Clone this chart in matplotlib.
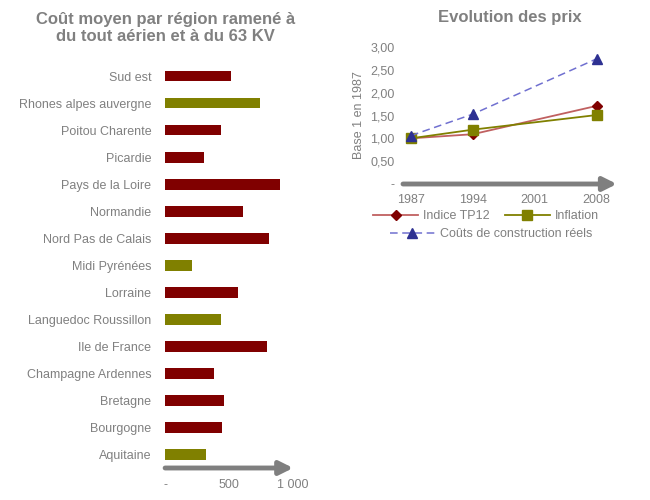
import matplotlib
matplotlib.use("Agg")
import matplotlib.pyplot as plt
from matplotlib.ticker import FuncFormatter

plt.rcParams['font.family'] = ['Liberation Sans', 'DejaVu Sans']

# bar chart data (top to bottom)
regions = ["Sud est", "Rhones alpes auvergne", "Poitou Charente", "Picardie",
           "Pays de la Loire", "Normandie", "Nord Pas de Calais", "Midi Pyrénées",
           "Lorraine", "Languedoc Roussillon", "Ile de France", "Champagne Ardennes",
           "Bretagne", "Bourgogne", "Aquitaine"]
costs = [516, 745, 438, 307, 898, 607, 810, 208, 570, 438, 792, 383, 458, 445, 320]
highlight = [False, True, False, False, False, False, False, True,
             False, True, False, False, False, False, True]

# line chart data
years = [1987, 1994, 2008]
tp12 = [1.0, 1.09, 1.71]
inflation = [1.0, 1.19, 1.51]
couts = [1.06, 1.53, 2.74]
year_ticks = [1987, 1994, 2001, 2008]

grey = "#808080"
red = "#800000"
olive = "#808000"

fig = plt.figure(figsize=(6.5, 5), dpi=100)

# --- left: bar chart
ax1 = fig.add_axes([0.254, 0.064, 0.197, 0.811])
ypos = list(range(len(regions)))[::-1]
colors = [olive if h else red for h in highlight]
ax1.barh(ypos, costs, height=0.4, color=colors)
ax1.set_xlim(0, 1000)
ax1.set_ylim(-0.5, len(regions) - 0.5)
ax1.set_yticks(ypos)
ax1.set_yticklabels(regions)
ax1.set_xticks([0, 500, 1000])
ax1.xaxis.set_major_formatter(FuncFormatter(
    lambda v, p: "-" if v == 0 else f"{int(v):,}".replace(",", " ")))
for s in ax1.spines.values():
    s.set_visible(False)
ax1.tick_params(length=0, colors=grey, labelsize=9)
ax1.tick_params(axis="y", pad=10)
ax1.tick_params(axis="x", pad=8)
ax1.annotate("", xy=(1.0, 0), xytext=(0, 0), xycoords="axes fraction",
             arrowprops=dict(arrowstyle="-|>,head_length=0.8,head_width=0.4",
                             color="#7f7f7f", lw=3.5, shrinkA=0, shrinkB=0),
             annotation_clip=False)
fig.text(0.254, 0.976, "Coût moyen par région ramené à\ndu tout aérien et à du 63 KV",
         ha="center", va="top", fontsize=12, fontweight="bold", color=grey,
         linespacing=1.2)

# --- right: line chart
ax2 = fig.add_axes([0.62, 0.632, 0.329, 0.274])
l1, = ax2.plot(years, tp12, color="#c06060", lw=1.3, marker="D", markersize=5,
               markerfacecolor=red, markeredgecolor=red)
l2, = ax2.plot(years, inflation, color=olive, lw=1.3, marker="s", markersize=7,
               markerfacecolor=olive, markeredgecolor=olive)
l3, = ax2.plot(years, couts, color="#7070d0", lw=1.1, ls=(0, (5, 3)), marker="^",
               markersize=7.5, markerfacecolor="#2e3192", markeredgecolor="#2e3192")
ax2.set_xlim(1986.1, 2010.3)
ax2.set_ylim(0, 3)
ax2.set_xticks(year_ticks)
ax2.set_yticks([0, 0.5, 1, 1.5, 2, 2.5, 3])
ax2.yaxis.set_major_formatter(FuncFormatter(
    lambda v, p: "-" if v == 0 else f"{v:.2f}".replace(".", ",")))
for s in ax2.spines.values():
    s.set_visible(False)
ax2.tick_params(length=0, colors=grey, labelsize=9)
ax2.tick_params(axis="x", pad=7)
ax2.tick_params(axis="y", pad=6)
ax2.set_ylabel("Base 1 en 1987", color=grey, fontsize=9)
ax2.annotate("", xy=(1.0, 0), xytext=(0, 0), xycoords="axes fraction",
             arrowprops=dict(arrowstyle="-|>,head_length=0.8,head_width=0.4",
                             color="#7f7f7f", lw=3.5, shrinkA=0, shrinkB=0),
             annotation_clip=False)
ax2.set_title("Evolution des prix", color=grey, fontsize=12, fontweight="bold", pad=18)

leg1 = fig.legend([l1, l2], ["Indice TP12", "Inflation"], ncol=2, loc="center",
                  bbox_to_anchor=(0.748, 0.568), frameon=False, fontsize=9,
                  labelcolor=grey, handlelength=3.6, columnspacing=1.2,
                  handletextpad=0.4)
leg2 = fig.legend([l3], ["Coûts de construction réels"], loc="center",
                  bbox_to_anchor=(0.755, 0.532), frameon=False, fontsize=9,
                  labelcolor=grey, handlelength=3.6, handletextpad=0.4)

plt.savefig("out.png", dpi=100)
